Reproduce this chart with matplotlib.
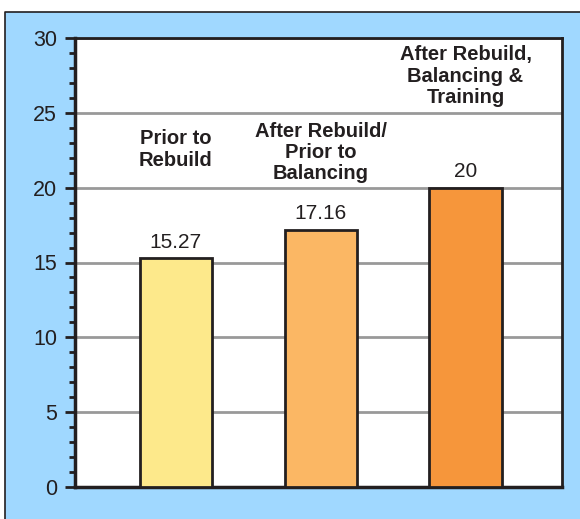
import matplotlib
matplotlib.use("Agg")
import matplotlib.pyplot as plt
from matplotlib.lines import Line2D
from matplotlib.patches import Rectangle
from matplotlib.ticker import MultipleLocator

plt.rcParams["font.family"] = ["Liberation Sans", "DejaVu Sans"]

# ── Datos ─────────────────────────────────────────────────────────────────
categories = ["Prior to\nRebuild",
              "After Rebuild/\nPrior to\nBalancing",
              "After Rebuild,\nBalancing &\nTraining"]
values = [15.27, 17.16, 20]
value_labels = ["15.27", "17.16", "20"]
bar_colors = ["#fde98b", "#fbb764", "#f6963b"]
yticks = [0, 5, 10, 15, 20, 25, 30]

fig = plt.figure(figsize=(5.80, 5.19), dpi=100)
fig.patch.set_facecolor("white")

# panel azul de fondo (borde solo arriba e izquierda)
W, H = 580, 519
x0, y1 = 5 / W, (H - 12) / H
panel = Rectangle((x0, 0), 1, y1, transform=fig.transFigure,
                  facecolor="#a0d8ff", edgecolor="none", zorder=-1)
fig.patches.append(panel)
fig.lines.append(Line2D([x0, x0, 1], [0, y1, y1], transform=fig.transFigure,
                        color="#231f20", linewidth=1.2, zorder=-0.5))

ax = fig.add_axes([75 / W, (H - 487) / H, (562 - 75) / W, (487 - 38) / H])
ax.set_zorder(1)
ax.set_facecolor("white")

x = list(range(len(values)))
ax.bar(x, values, width=0.5, color=bar_colors, edgecolor="#231f20",
       linewidth=2, zorder=3)

for xi, v, lab in zip(x, values, value_labels):
    ax.text(xi, v + 0.45, lab, ha="center", va="bottom", fontsize=15,
            color="#231f20")

cat_tops = [23.9, 24.4, 29.5]
for xi, cat, top in zip(x, categories, cat_tops):
    ax.text(xi, top, cat, ha="center", va="top", fontsize=14.5,
            fontweight="bold", color="#231f20", linespacing=1.15)

ax.set_xlim(-0.697, 2.666)
ax.set_ylim(0, 30)
ax.set_yticks(yticks)
ax.yaxis.set_minor_locator(MultipleLocator(1))
ax.set_xticks([])
ax.tick_params(axis="y", which="major", length=7, width=2, labelsize=15.5,
               colors="#231f20", pad=6)
ax.tick_params(axis="y", which="minor", length=4, width=2, colors="#231f20")

ax.grid(axis="y", color="#999999", linewidth=2, zorder=1)
ax.set_axisbelow(True)

for side in ["left", "bottom"]:
    ax.spines[side].set_linewidth(2.5)
    ax.spines[side].set_color("#231f20")
for side in ["top", "right"]:
    ax.spines[side].set_linewidth(2)
    ax.spines[side].set_color("#231f20")

fig.savefig("out.png", dpi=100)
